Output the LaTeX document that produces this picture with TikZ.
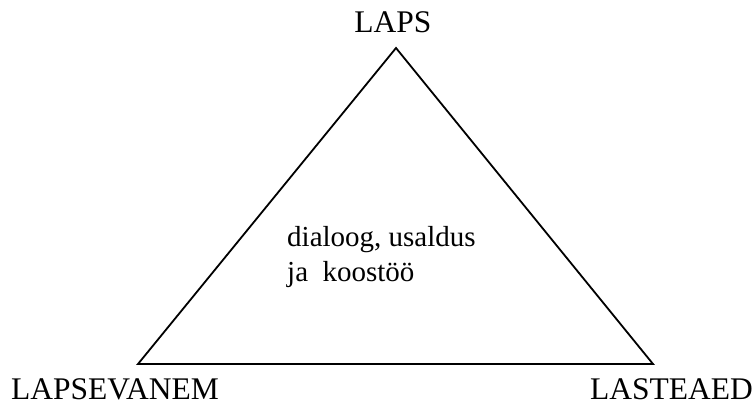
\documentclass[tikz,border=0pt]{standalone}
\usepackage{fontspec}
\setmainfont{Liberation Serif}
\begin{document}
\begin{tikzpicture}[x=1pt,y=1pt,
  lbl/.style={inner sep=0pt,font=\fontsize{31.5}{36}\selectfont},
  ctr/.style={inner sep=0pt,font=\fontsize{29}{34}\selectfont},
  edge/.style={line width=1.8pt,line join=miter}]
\useasboundingbox (0,0) rectangle (754,405);
\coordinate (apex) at (396,357);
\coordinate (bl) at (138,41);
\coordinate (br) at (653,41);
\draw[edge] (apex) -- (bl) -- (br) -- cycle;
\node[lbl,anchor=base] (laps) at (393,372) {LAPS};
\node[lbl,anchor=base west] (vanem) at (11,6) {LAPSEVANEM};
\node[lbl,anchor=base east] (aed) at (753,6) {LASTEAED};
\node[ctr,anchor=base west] (t1) at (287,159) {dialoog, usaldus};
\node[ctr,anchor=base west] (t2) at (287,124) {ja\ \ koostöö};
\end{tikzpicture}
\end{document}
